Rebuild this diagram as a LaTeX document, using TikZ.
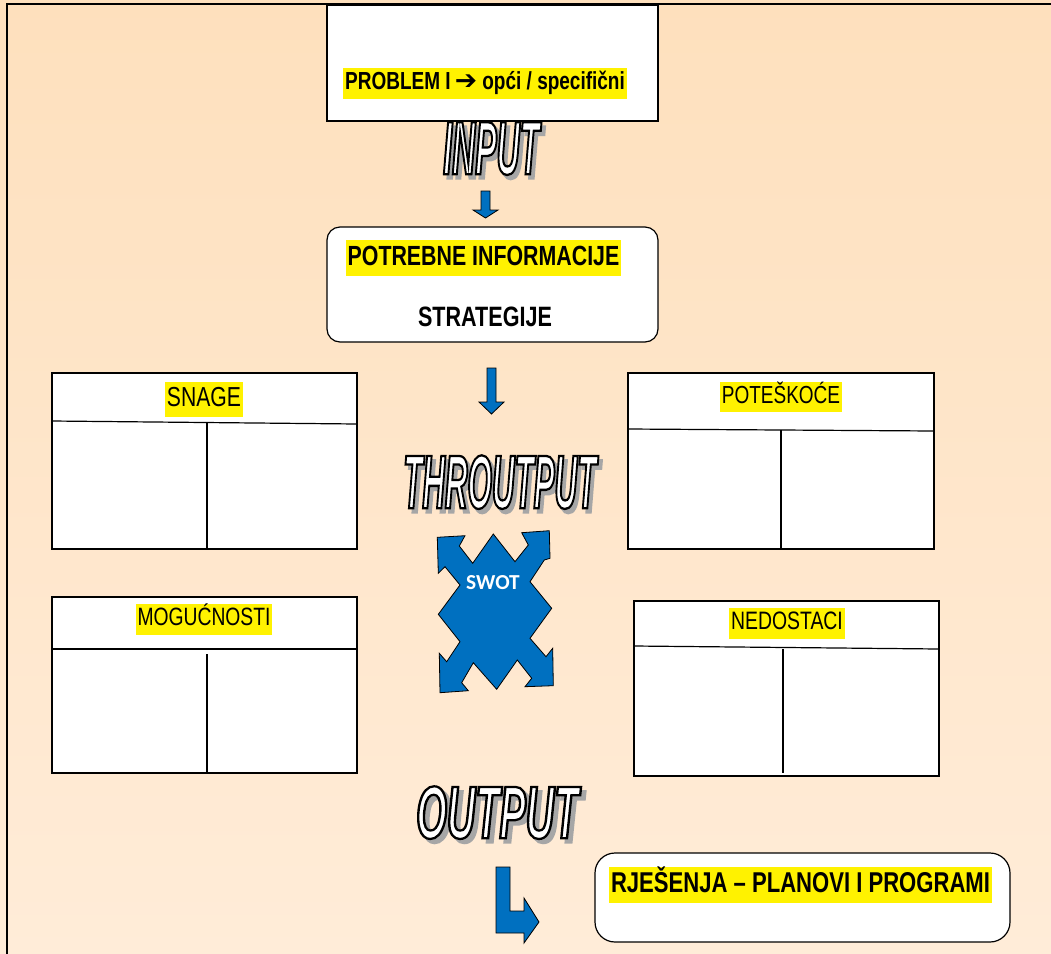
\documentclass[tikz,border=0pt]{standalone}
\usepackage{fontspec}
\usepackage{graphicx}
\setmainfont{Liberation Sans}
\newfontfamily\narrowfont[FakeStretch=0.77]{Liberation Sans}
\newfontfamily\artfont[FakeStretch=0.5, FakeBold=3]{Liberation Sans}
\newfontfamily\swotfont{Carlito}
\newfontfamily\symbolfont{DejaVu Sans}
\definecolor{peachtop}{RGB}{254,224,189}
\definecolor{peachbottom}{RGB}{255,236,216}
\definecolor{arrowblue}{RGB}{0,112,192}
% outlined word with a grey shadow: width, height, text
\newcommand{\wordart}[3]{\resizebox{#1}{#2}{\artfont\bfseries\itshape\fontsize{54}{60}\selectfont%
  \makebox[0pt][l]{\hspace{3pt}\raisebox{-3pt}{\textcolor{gray!70}{#3}}}%
  \textcolor{white}{\special{pdf:literal direct 0 0 0 RG}#3}}}

\begin{document}
\begin{tikzpicture}[x=0.75pt, y=-0.75pt,
    box/.style={draw=black, fill=white, line width=0.9pt},
    hl/.style={fill=yellow, inner xsep=1.5pt, inner ysep=0pt, execute at begin node=\strut},
    blockarrow/.style={fill=arrowblue, draw=black, line width=0.6pt, line join=miter}]
  \clip (0,0) rectangle (1051,954);
  \shade[top color=peachtop, bottom color=peachbottom] (0,0) rectangle (1051,954);
  \draw[line width=1.6pt] (7,960) -- (7,4) -- (1060,4);

  % input
  \draw[box] (327,5) rectangle (658,121);
  \node[hl, font={\narrowfont\bfseries\fontsize{18.5}{23.3}\selectfont}] (problem) at (485,83.5)
    {PROBLEM I\,{\symbolfont\fontsize{20}{23}\selectfont ➔} opći / specifični};
  \node[anchor=north west, inner sep=0pt] (input) at (443,122) {\wordart{72pt}{39pt}{INPUT}};
  \draw[blockarrow] (481,191) -- (490,191) -- (490,210) -- (498,210) -- (485.5,218) -- (473,210) -- (481,210) -- cycle;

  \draw[box, rounded corners=9.75pt] (327,227) rectangle (658,342);
  \node[hl, font={\narrowfont\bfseries\fontsize{20.8}{26.6}\selectfont}] (info) at (483.5,258) {POTREBNE INFORMACIJE};
  \node[inner sep=0pt, font={\narrowfont\bfseries\fontsize{21}{26}\selectfont}] (strategy) at (485,317) {STRATEGIJE};
  \draw[blockarrow] (487,368) -- (496,368) -- (496,402) -- (504,402) -- (491.5,414) -- (479,402) -- (487,402) -- cycle;

  % throughput
  \node[anchor=north west, inner sep=0pt] (throughput) at (403,455) {\wordart{144.75pt}{39.75pt}{THROUTPUT}};

  \draw[box] (52,373) rectangle (357,549);
  \draw[line width=0.9pt] (52,421) -- (357,424);
  \draw[line width=0.9pt] (207,422.5) -- (207,549);
  \node[hl, font={\narrowfont\fontsize{20.6}{26}\selectfont}] (strengths) at (204,399.5) {SNAGE};

  \draw[box] (628,373) rectangle (934,549);
  \draw[line width=0.9pt] (628,429) -- (934,431);
  \draw[line width=0.9pt] (781,430) -- (781,549);
  \node[hl, font={\narrowfont\fontsize{18.5}{23}\selectfont}] (threats) at (781,397) {POTEŠKOĆE};

  \draw[box] (52,597) rectangle (357,773);
  \draw[line width=0.9pt] (52,649) -- (357,649);
  \draw[line width=0.9pt] (207,654) -- (207,773);
  \node[hl, font={\narrowfont\fontsize{18.8}{23.5}\selectfont}] (chances) at (204,619.5) {MOGUĆNOSTI};

  \draw[box] (634,601) rectangle (939,776);
  \draw[line width=0.9pt] (634,646) -- (939,649);
  \draw[line width=0.9pt] (783,649) -- (783,773);
  \node[hl, font={\narrowfont\fontsize{18.9}{23.5}\selectfont}] (weaknesses) at (787,623.5) {NEDOSTACI};

  \draw[blockarrow] (515,561.7) -- (528.3,545) -- (521.7,532.7) -- (549.3,530.7) -- (550,558.3)
    -- (544.3,560) -- (530,581.7) -- (551.7,608.3) -- (530,638.3) -- (546,656.7) -- (552.7,648.3)
    -- (553.3,685.7) -- (525,686.7) -- (531.7,678.3) -- (517.3,660) -- (496.7,689.3) -- (473.3,662.7)
    -- (461.7,682.7) -- (468.3,690.7) -- (440,692.7) -- (439.3,653.3) -- (446.7,661.7) -- (460,641.7)
    -- (438.3,614.3) -- (460,585) -- (445,566.7) -- (438.3,573.3) -- (437.3,537.3) -- (465,535.7)
    -- (459.3,546) -- (472.7,563.3) -- (493.3,534) -- cycle;
  \node[text=white, font={\swotfont\bfseries\fontsize{16}{19}\selectfont}] (swot) at (493,583) {SWOT};

  % output
  \node[anchor=north west, inner sep=0pt] (output) at (416,786) {\wordart{121.5pt}{39pt}{OUTPUT}};
  \draw[blockarrow] (496,867) -- (510,867) -- (510,911) -- (524,911) -- (524,898) -- (539,922)
    -- (524,943) -- (524,933) -- (496,933) -- cycle;

  \draw[box, rounded corners=15pt] (595,853) rectangle (1010,942);
  \node[hl, font={\narrowfont\bfseries\fontsize{21.5}{27}\selectfont}] (solutions) at (800.5,885)
    {RJEŠENJA – PLANOVI I PROGRAMI};
\end{tikzpicture}
\end{document}
